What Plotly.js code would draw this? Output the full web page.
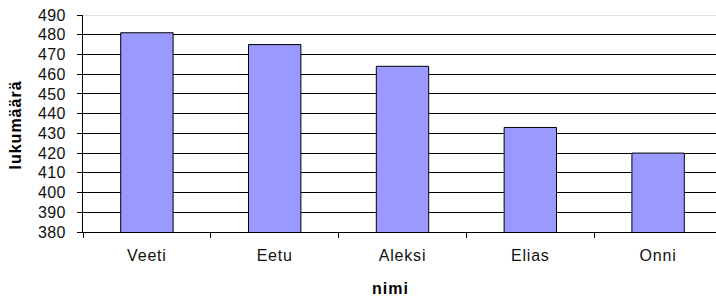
<!DOCTYPE html>
<html>
<head>
<meta charset="utf-8">
<script src="https://cdn.plot.ly/plotly-3.0.1.min.js"></script>
<style>
html,body{margin:0;padding:0;background:#fff;}
#chart{width:716px;height:299px;}
#chart .xtick text{letter-spacing:0.8px;}
#chart .ytick text{letter-spacing:0.4px;}
#chart .annotation-text{letter-spacing:1px;}
</style>
</head>
<body>
<div id="chart"></div>
<script>
var names = ["Veeti", "Eetu", "Aleksi", "Elias", "Onni"];
var counts = [481, 475, 464, 433, 420];
var yTicks = [380, 390, 400, 410, 420, 430, 440, 450, 460, 470, 480, 490];
var xTitle = "nimi";
var yTitle = "lukumäärä";

var fontFam = "Liberation Sans, Arial, sans-serif";

var trace = {
  type: "bar",
  x: names,
  y: counts,
  marker: {color: "#9999FF", line: {color: "#000000", width: 1}},
  hoverinfo: "x+y"
};

var layout = {
  width: 716,
  height: 299,
  margin: {l: 83, r: 0, t: 15, b: 67},
  paper_bgcolor: "#ffffff",
  plot_bgcolor: "#ffffff",
  bargap: 0.59,
  showlegend: false,
  font: {family: fontFam, size: 16, color: "#000"},
  xaxis: {
    type: "category",
    range: [-0.5, 4.453],
    tickson: "boundaries",
    ticks: "outside",
    ticklen: 5,
    tickcolor: "#000",
    showline: true,
    linecolor: "#000",
    linewidth: 1,
    showgrid: false,
    zeroline: false,
    tickfont: {family: fontFam, size: 16, color: "#111"},
    ticklabelstandoff: 9
  },
  yaxis: {
    range: [380, 490],
    tickvals: yTicks,
    ticktext: yTicks.map(String),
    ticks: "outside",
    ticklen: 5,
    tickcolor: "#000",
    showline: true,
    linecolor: "#000",
    linewidth: 1,
    showgrid: true,
    gridcolor: "#000",
    gridwidth: 1,
    zeroline: false,
    tickfont: {family: fontFam, size: 16, color: "#111"},
    ticklabelstandoff: 8
  },
  shapes: [{
    type: "line", xref: "paper", yref: "y", x0: 0, x1: 1, y0: 490, y1: 490,
    line: {color: "#c0c0c0", width: 1}, layer: "above"
  }],
  annotations: [
    {text: "<b>" + xTitle + "</b>", xref: "paper", yref: "paper",
     x: (390 - 83) / 633, y: (232 - 288) / 217, xanchor: "center", yanchor: "middle",
     showarrow: false, font: {family: fontFam, size: 16, color: "#000"}},
    {text: "<b>" + yTitle + "</b>", xref: "paper", yref: "paper",
     x: (15 - 83) / 633, y: (232 - 125) / 217, xanchor: "center", yanchor: "middle",
     textangle: -90, showarrow: false, font: {family: fontFam, size: 16, color: "#000"}}
  ]
};

Plotly.newPlot("chart", [trace], layout, {staticPlot: true, displayModeBar: false});
</script>
</body>
</html>
